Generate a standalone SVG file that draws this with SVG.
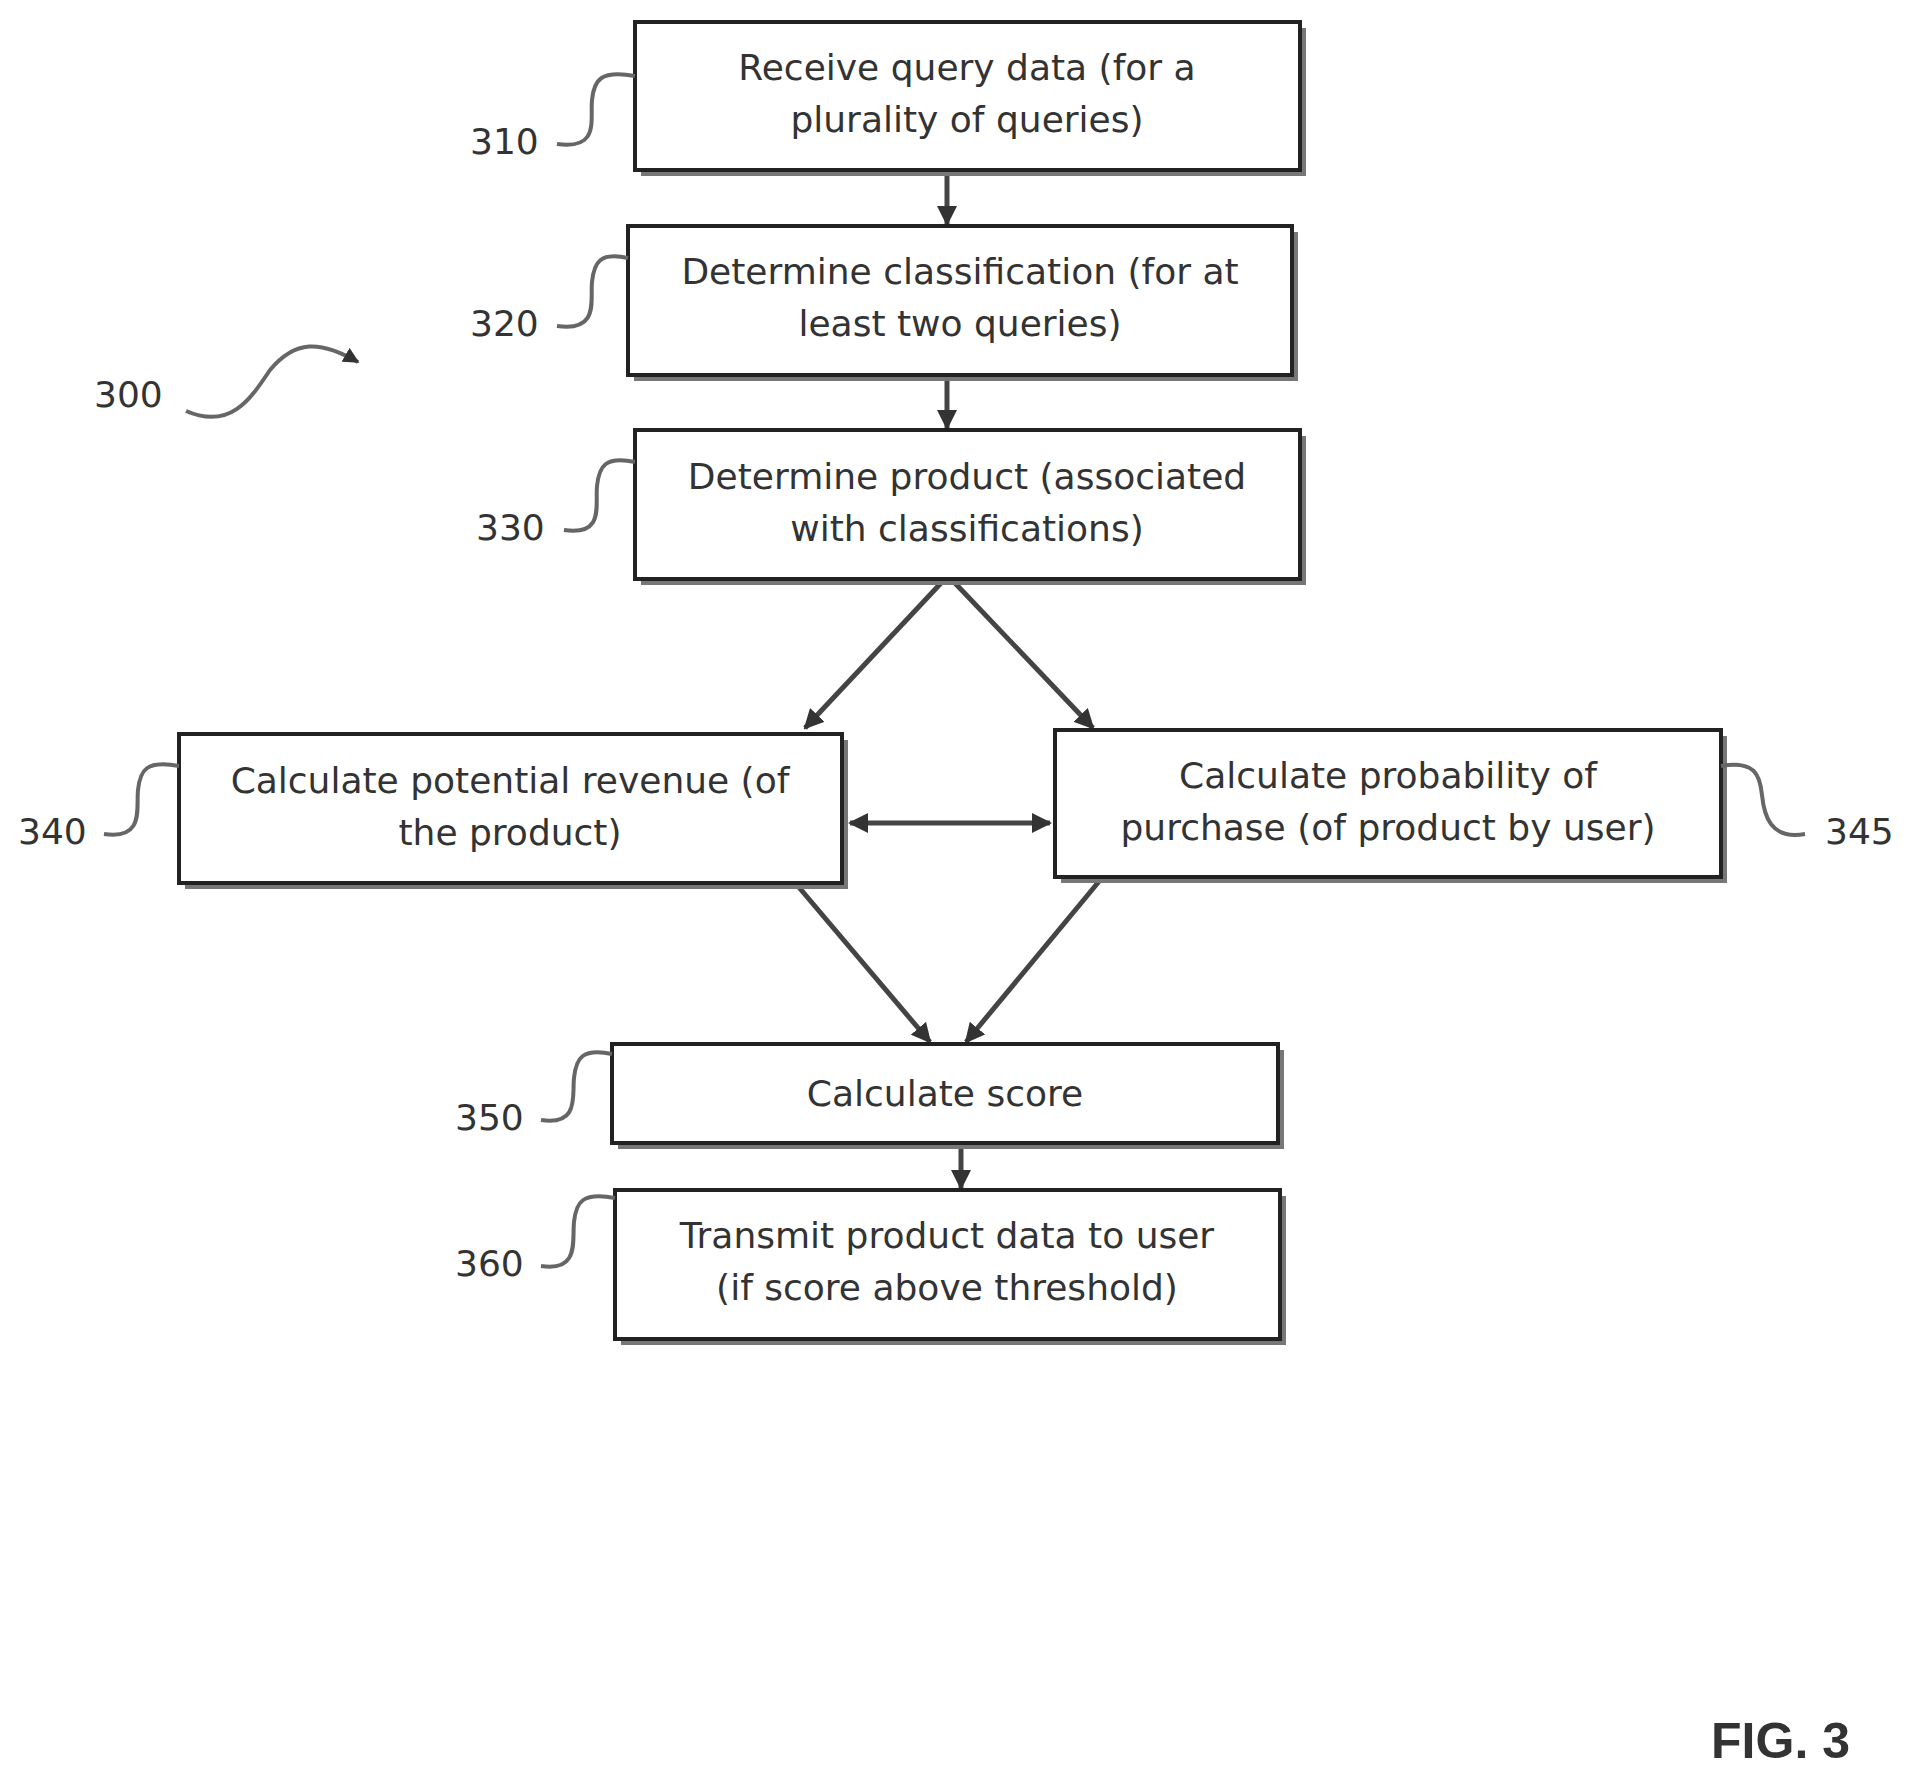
<svg xmlns="http://www.w3.org/2000/svg" width="1908" height="1782" viewBox="0 0 1908 1782">
<defs>
<style>
.box{fill:#fff;stroke:#222;stroke-width:4}
.sh{fill:#777}
.t{font-family:"DejaVu Sans",sans-serif;font-size:36px;fill:#333;text-anchor:middle}
.lb{font-family:"DejaVu Sans",sans-serif;font-size:36px;fill:#333}
.ln{fill:none;stroke:#444;stroke-width:5}
.ld{fill:none;stroke:#666;stroke-width:4}
</style>
<marker id="a" viewBox="0 0 10 10" refX="9" refY="5" markerWidth="4" markerHeight="4" orient="auto-start-reverse"><path d="M0,0L10,5L0,10z" fill="#333"/></marker>
</defs>
<rect width="1908" height="1782" fill="#fff"/>
<g id="connectors">
<line class="ln" x1="947" y1="170" x2="947" y2="224" marker-end="url(#a)"/>
<line class="ln" x1="947" y1="375" x2="947" y2="428" marker-end="url(#a)"/>
<line class="ln" x1="943" y1="581" x2="805" y2="728" marker-end="url(#a)"/>
<line class="ln" x1="953" y1="581" x2="1093" y2="728" marker-end="url(#a)"/>
<line class="ln" x1="850" y1="823" x2="1050" y2="823" marker-start="url(#a)" marker-end="url(#a)"/>
<line class="ln" x1="797" y1="885" x2="930" y2="1042" marker-end="url(#a)"/>
<line class="ln" x1="1101" y1="879" x2="966" y2="1042" marker-end="url(#a)"/>
<line class="ln" x1="961" y1="1145" x2="961" y2="1188" marker-end="url(#a)"/>
<path class="ld" d="M186,411 C230,430 250,400 270,370 C295,340 320,340 358,362" marker-end="url(#a)"/>
</g>
<g id="n310"><rect class="sh" x="641" y="28" width="665" height="148"/><rect class="box" x="635" y="22" width="665" height="148"/><text class="t" x="967" y="80">Receive query data (for a</text><text class="t" x="967" y="132">plurality of queries)</text><text class="lb" x="470" y="154">310</text><path class="ld" d="M557,144 C600,150 590,120 592,100 C594,80 600,70 635,76"/></g>
<g id="n320"><rect class="sh" x="634" y="232" width="664" height="149"/><rect class="box" x="628" y="226" width="664" height="149"/><text class="t" x="960" y="284">Determine classification (for at</text><text class="t" x="960" y="336">least two queries)</text><text class="lb" x="470" y="336">320</text><path class="ld" d="M557,326 C600,332 590,300 592,282 C594,262 600,252 628,258"/></g>
<g id="n330"><rect class="sh" x="641" y="436" width="665" height="149"/><rect class="box" x="635" y="430" width="665" height="149"/><text class="t" x="967" y="489">Determine product (associated</text><text class="t" x="967" y="541">with classifications)</text><text class="lb" x="476" y="540">330</text><path class="ld" d="M564,530 C605,536 595,505 597,486 C599,466 605,456 635,462"/></g>
<g id="n340"><rect class="sh" x="185" y="740" width="663" height="149"/><rect class="box" x="179" y="734" width="663" height="149"/><text class="t" x="510" y="793">Calculate potential revenue (of</text><text class="t" x="510" y="845">the product)</text><text class="lb" x="18" y="844">340</text><path class="ld" d="M104,834 C145,840 136,808 138,790 C140,770 146,760 179,766"/></g>
<g id="n345"><rect class="sh" x="1061" y="736" width="666" height="147"/><rect class="box" x="1055" y="730" width="666" height="147"/><text class="t" x="1388" y="788">Calculate probability of</text><text class="t" x="1388" y="840">purchase (of product by user)</text><text class="lb" x="1825" y="844">345</text><path class="ld" d="M1721,766 C1755,760 1760,775 1762,795 C1764,815 1770,840 1805,834"/></g>
<g id="n350"><rect class="sh" x="618" y="1050" width="666" height="99"/><rect class="box" x="612" y="1044" width="666" height="99"/><text class="t" x="945" y="1106">Calculate score</text><text class="lb" x="455" y="1130">350</text><path class="ld" d="M541,1120 C580,1126 572,1095 574,1078 C576,1058 582,1048 612,1054"/></g>
<g id="n360"><rect class="sh" x="621" y="1196" width="665" height="149"/><rect class="box" x="615" y="1190" width="665" height="149"/><text class="t" x="947" y="1248">Transmit product data to user</text><text class="t" x="947" y="1300">(if score above threshold)</text><text class="lb" x="455" y="1276">360</text><path class="ld" d="M541,1266 C580,1272 572,1240 574,1222 C576,1202 582,1192 615,1198"/></g>
<text class="lb" x="94" y="407">300</text>
<text x="1850" y="1758" font-family="Liberation Sans,sans-serif" font-weight="bold" font-size="50" fill="#333" text-anchor="end">FIG. 3</text>
</svg>
